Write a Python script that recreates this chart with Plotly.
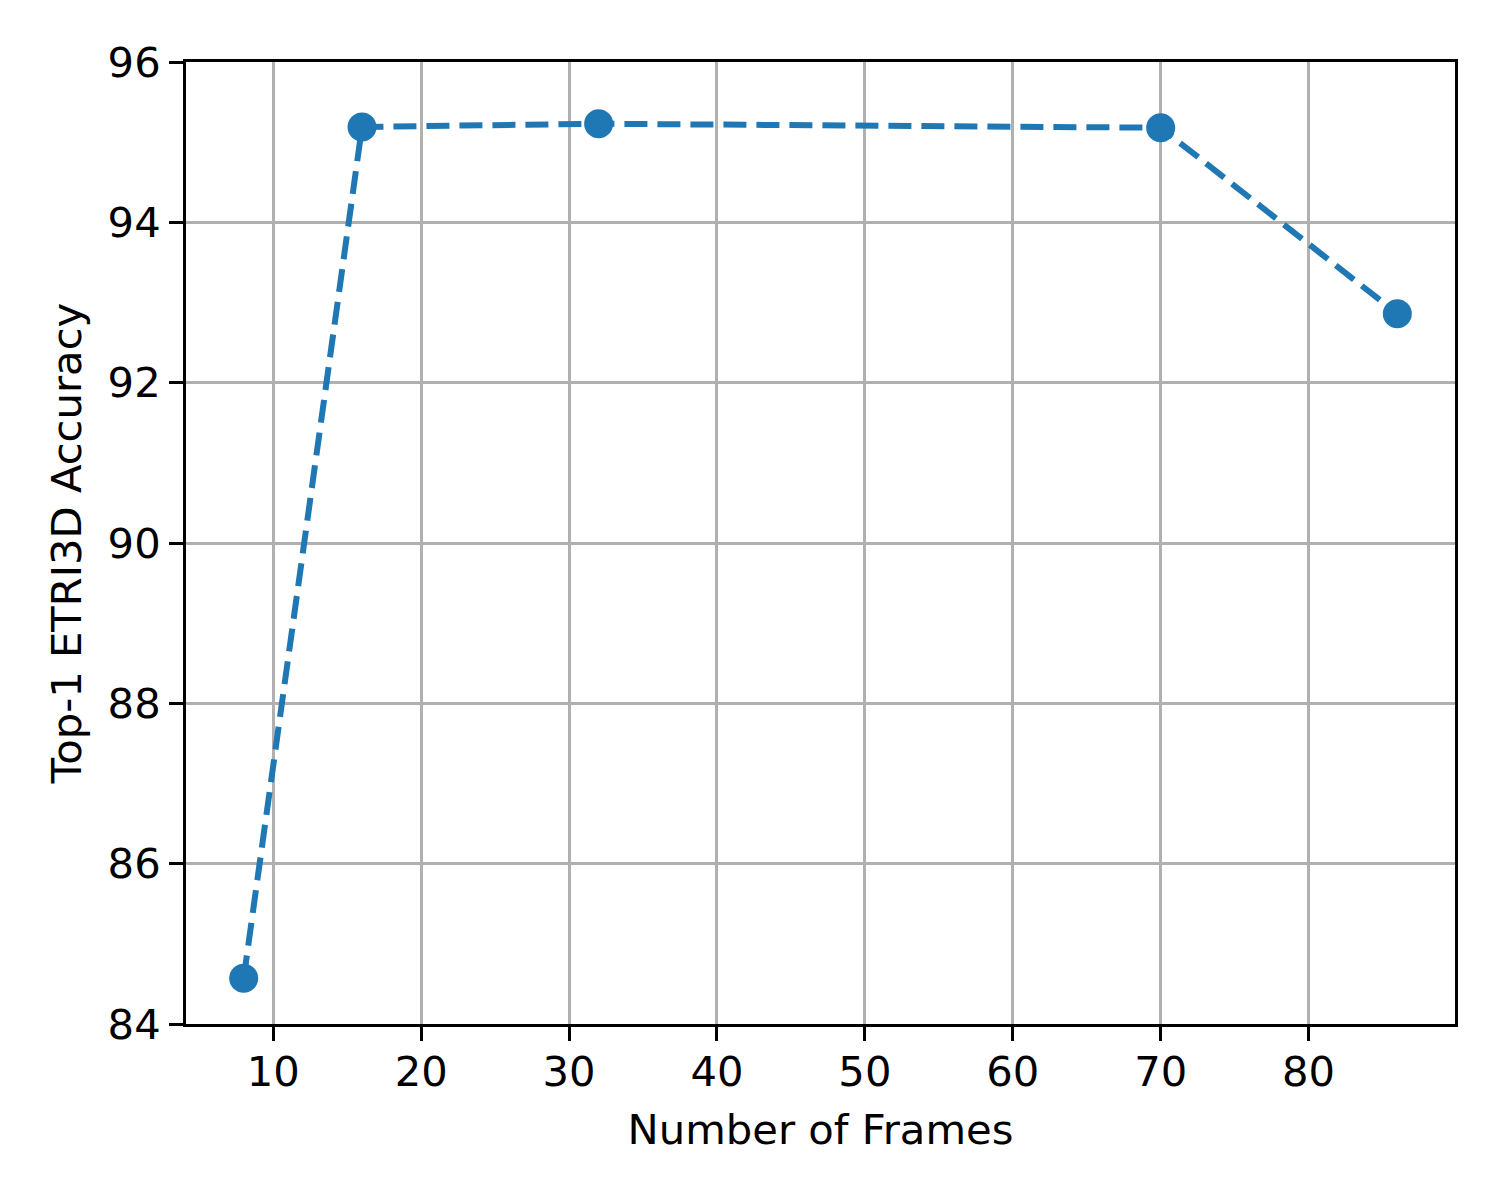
import plotly.graph_objects as go

# Data
frames = [8, 16, 32, 70, 86]
accuracy = [84.57, 95.19, 95.23, 95.18, 92.86]

x_ticks = [10, 20, 30, 40, 50, 60, 70, 80]
y_ticks = [84, 86, 88, 90, 92, 94, 96]

FONT = dict(family="DejaVu Sans", size=41.7, color="black")

fig = go.Figure()
fig.add_trace(go.Scatter(
    x=frames,
    y=accuracy,
    mode="lines+markers",
    line=dict(color="#1f77b4", width=6, dash="23px,10px"),
    marker=dict(color="#1f77b4", size=29),
    showlegend=False,
))

axis_common = dict(
    showline=True,
    linecolor="black",
    linewidth=3,
    mirror=True,
    ticks="outside",
    ticklen=14,
    tickwidth=3,
    tickcolor="black",
    showgrid=True,
    gridcolor="#b0b0b0",
    gridwidth=3,
    zeroline=False,
    tickfont=FONT,
    title_font=FONT,
)

fig.update_xaxes(
    range=[4.1, 89.9],
    tickvals=x_ticks,
    ticklabelstandoff=-5,
    title_text="Number of Frames",
    title_standoff=20,
    **axis_common,
)
fig.update_yaxes(
    range=[84, 96],
    tickvals=y_ticks,
    title_text="Top-1 ETRI3D Accuracy",
    title_standoff=14,
    **axis_common,
)

fig.update_layout(
    width=1500,
    height=1200,
    margin=dict(l=178, r=53, t=54, b=184),
    paper_bgcolor="white",
    plot_bgcolor="white",
)

fig.write_html("out.html")
